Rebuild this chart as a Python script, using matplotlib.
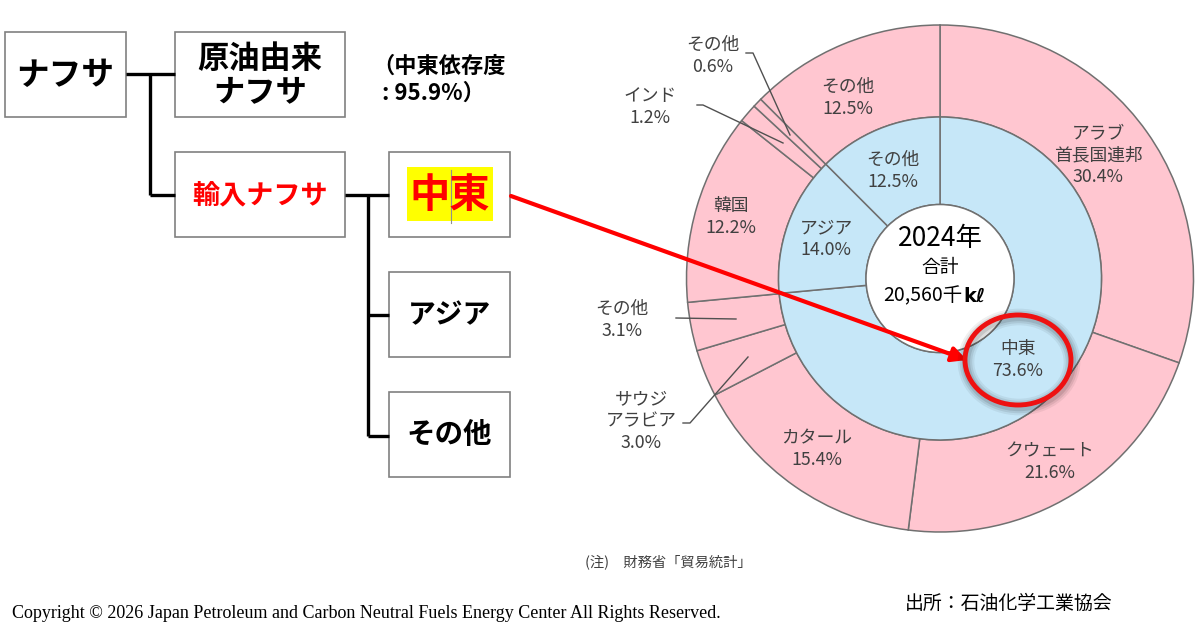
import matplotlib
matplotlib.use("Agg")
import matplotlib.pyplot as plt
from matplotlib.patches import Rectangle, Ellipse, Circle

plt.rcParams['font.family'] = ['Noto Sans CJK JP', 'DejaVu Sans']

# データ（2024年 輸入ナフサの国別シェア, %）
outer_names = ['アラブ\n首長国連邦', 'クウェート', 'カタール', 'サウジ\nアラビア', 'その他',
               '韓国', 'インド', 'その他', 'その他']
outer_shares = [30.4, 21.6, 15.4, 3.0, 3.1, 12.2, 1.2, 0.6, 12.5]
inner_names = ['中東', 'アジア', 'その他']
inner_shares = [73.6, 14.0, 12.5]
year_label = '2024年'
total_label = '20,560千'
dependence = 95.9

PINK = '#FFC6D0'
BLUE = '#C6E7F8'
EDGE = '#707070'
TXT = '#404040'

fig = plt.figure(figsize=(12, 6.26), dpi=100)

# ---- ドーナツ（中心 940,278.5 px, 半径 253.5 px）
cx, cy, R = 940, 278.5, 253.5
S = 560
pax = fig.add_axes([(cx - S / 2) / 1200, (626 - cy - S / 2) / 626, S / 1200, S / 626])
lim = (S / 2) / R
pax.axis('off')

r_mid = 161.5 / R
r_in = 74 / R
pax.pie(outer_shares, radius=1.0, startangle=90, counterclock=False, colors=[PINK] * len(outer_shares),
        wedgeprops=dict(width=1.0 - r_mid, edgecolor=EDGE, linewidth=1.1))
pax.pie(inner_shares, radius=r_mid, startangle=90, counterclock=False, colors=[BLUE] * len(inner_shares),
        wedgeprops=dict(width=r_mid - r_in, edgecolor=EDGE, linewidth=1.1))
pax.add_patch(Circle((0, 0), r_in, facecolor='white', edgecolor=EDGE, linewidth=1.1, zorder=5))
pax.set_xlim(-lim, lim)
pax.set_ylim(-lim, lim)

# ---- 上に重ねるピクセル座標の軸
ax = fig.add_axes([0, 0, 1, 1])
ax.set_xlim(0, 1200)
ax.set_ylim(626, 0)
ax.axis('off')
ax.patch.set_alpha(0)

# 系統図の箱
box_ec = '#808080'
boxes = [
    (5, 32, 121, 85, 'ナフサ', 23.5, 'black', None),
    (175, 32, 170, 85, '原油由来\nナフサ', 22.5, 'black', None),
    (175, 152, 170, 85, '輸入ナフサ', 19.5, 'red', None),
    (389, 152, 121, 85, '中東', 29, 'red', '#FFFF00'),
    (389, 272, 121, 85, 'アジア', 20, 'black', None),
    (389, 392, 121, 85, 'その他', 20.5, 'black', None),
]
for x, y, w, h, label, fs, col, hl in boxes:
    ax.add_patch(Rectangle((x, y), w, h, facecolor='white', edgecolor=box_ec, linewidth=1.2))
    if hl:
        ax.add_patch(Rectangle((407, 167), 86, 54, facecolor=hl, edgecolor='none'))
    ax.text(x + w / 2, y + h / 2 + 1, label, ha='center', va='center', fontsize=fs,
            color=col, fontweight='bold', linespacing=1.05)
ax.plot([451, 451], [170, 223], color='#909090', lw=0.8)

# 接続線
lk = dict(color='black', lw=2.4, solid_capstyle='butt')
ax.plot([126, 175], [74, 74], **lk)
ax.plot([150, 150], [74, 195], **lk)
ax.plot([150, 175], [195, 195], **lk)
ax.plot([345, 389], [195, 195], **lk)
ax.plot([368, 368], [195, 436], **lk)
ax.plot([368, 389], [315, 315], **lk)
ax.plot([368, 389], [436, 436], **lk)

ax.text(372, 66, '（中東依存度', ha='left', va='center', fontsize=16, fontweight='bold', color='black')
ax.text(382, 93, f': {dependence}%）', ha='left', va='center', fontsize=16, fontweight='bold', color='black')

# ドーナツのラベル
outer_pos = [(1098, 155), (1050, 462), (817, 449), (641, 421), (622, 320),
             (731, 217), (650, 107), (713, 56), (848, 98)]
for (x, y), name, v in zip(outer_pos, outer_names, outer_shares):
    ax.text(x, y, f'{name}\n{v:.1f}%', ha='center', va='center', fontsize=12.8, color=TXT,
            linespacing=1.25)
inner_pos = [(1018, 360), (826, 239), (893, 171)]
for (x, y), name, v in zip(inner_pos, inner_names, inner_shares):
    ax.text(x, y, f'{name}\n{v:.1f}%', ha='center', va='center', fontsize=12.8, color=TXT,
            linespacing=1.25, zorder=6)

# 引き出し線
ld = dict(color='#505050', lw=1.0)
ax.plot([746, 753, 790], [53, 53, 135], **ld)
ax.plot([697, 703, 783], [105, 105, 143], **ld)
ax.plot([676, 736], [318, 319], **ld)
ax.plot([683, 690, 748], [423, 423, 357], **ld)

# 中央の文字
ax.text(cx, 238, year_label, ha='center', va='center', fontsize=19, color='black', zorder=6)
ax.text(cx, 268, '合計', ha='center', va='center', fontsize=13.5, color='black', zorder=6)
ax.text(cx + 22, 296, total_label, ha='right', va='center', fontsize=14, color='black', zorder=6)
ax.text(cx + 23, 296, 'kℓ', ha='left', va='center', fontsize=14, color='black',
        fontweight='bold', family=['DejaVu Sans'], zorder=6)

# 赤い矢印と丸
ax.annotate('', xy=(967, 360), xytext=(511, 196),
            arrowprops=dict(arrowstyle='-|>', color='red', lw=3, mutation_scale=22,
                            shrinkA=0, shrinkB=0), zorder=7)
for lw, a in [(12, 0.06), (9, 0.08), (6, 0.1)]:
    ax.add_patch(Ellipse((1019, 362), 106, 90, fill=False, edgecolor='black', lw=lw, alpha=a, zorder=7))
ax.add_patch(Ellipse((1018, 360), 106, 90, fill=False, edgecolor='#EE1111', lw=3.5, zorder=8))

# 注記・出所
ax.text(585, 562, '(注)\u3000財務省「貿易統計」', ha='left', va='center', fontsize=10.3, color=TXT)
ax.text(905, 603, '出所：石油化学工業協会', ha='left', va='center', fontsize=13.6, color='black')
ax.text(12, 613, 'Copyright © 2026 Japan Petroleum and Carbon Neutral Fuels Energy Center All Rights Reserved.',
        ha='left', va='center', fontsize=13, color='black', family=['Liberation Serif'])

fig.savefig('out.png', dpi=100)
